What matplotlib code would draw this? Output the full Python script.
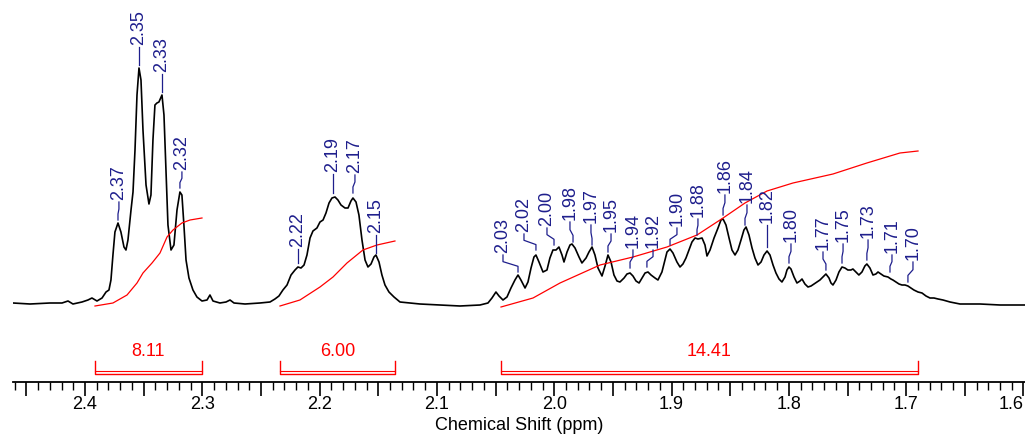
import numpy as np
import matplotlib.pyplot as plt
from matplotlib.ticker import MultipleLocator, FuncFormatter

plt.rcParams['font.family'] = ['Liberation Sans', 'DejaVu Sans']

# 1H NMR trace (chemical shift in ppm, intensity in arbitrary units)
shift = [2.4614, 2.4469, 2.4299, 2.4196, 2.4145, 2.4103, 2.4026, 2.3975, 2.3941, 2.3898,
         2.3855, 2.3821, 2.3796, 2.3779, 2.3762, 2.3745, 2.3719, 2.3694, 2.3668, 2.3651,
         2.3634, 2.3608, 2.3591, 2.3574, 2.3557, 2.3540, 2.3523, 2.3506, 2.3480, 2.3455,
         2.3438, 2.3421, 2.3404, 2.3387, 2.3370, 2.3344, 2.3327, 2.3310, 2.3293, 2.3267,
         2.3242, 2.3216, 2.3191, 2.3174, 2.3157, 2.3139, 2.3114, 2.3080, 2.3046, 2.3003,
         2.2960, 2.2935, 2.2909, 2.2850, 2.2798, 2.2764, 2.2730, 2.2636, 2.2509, 2.2423,
         2.2381, 2.2347, 2.2313, 2.2278, 2.2244, 2.2210, 2.2185, 2.2159, 2.2133, 2.2108,
         2.2082, 2.2057, 2.2023, 2.1997, 2.1971, 2.1946, 2.1920, 2.1895, 2.1869, 2.1844,
         2.1818, 2.1784, 2.1758, 2.1733, 2.1716, 2.1690, 2.1665, 2.1639, 2.1613, 2.1588,
         2.1562, 2.1537, 2.1520, 2.1494, 2.1469, 2.1443, 2.1409, 2.1366, 2.1315, 2.1230,
         2.1145, 2.0974, 2.0804, 2.0633, 2.0565, 2.0531, 2.0497, 2.0471, 2.0437, 2.0403,
         2.0369, 2.0335, 2.0309, 2.0284, 2.0249, 2.0224, 2.0198, 2.0173, 2.0156, 2.0130,
         2.0096, 2.0062, 2.0037, 2.0011, 1.9985, 1.9960, 1.9934, 1.9917, 1.9891, 1.9866,
         1.9849, 1.9823, 1.9789, 1.9764, 1.9729, 1.9704, 1.9678, 1.9653, 1.9627, 1.9593,
         1.9567, 1.9542, 1.9516, 1.9491, 1.9465, 1.9440, 1.9405, 1.9380, 1.9354, 1.9329,
         1.9303, 1.9277, 1.9252, 1.9226, 1.9201, 1.9175, 1.9141, 1.9116, 1.9082, 1.9056,
         1.9039, 1.9013, 1.8988, 1.8954, 1.8928, 1.8903, 1.8877, 1.8851, 1.8826, 1.8800,
         1.8775, 1.8740, 1.8715, 1.8698, 1.8672, 1.8638, 1.8604, 1.8579, 1.8561, 1.8536,
         1.8510, 1.8485, 1.8459, 1.8434, 1.8408, 1.8383, 1.8365, 1.8340, 1.8314, 1.8289,
         1.8263, 1.8237, 1.8212, 1.8186, 1.8161, 1.8135, 1.8110, 1.8084, 1.8059, 1.8033,
         1.8016, 1.7999, 1.7982, 1.7956, 1.7931, 1.7905, 1.7888, 1.7863, 1.7837, 1.7811,
         1.7786, 1.7760, 1.7735, 1.7709, 1.7684, 1.7658, 1.7641, 1.7624, 1.7598, 1.7573,
         1.7547, 1.7522, 1.7497, 1.7471, 1.7454, 1.7428, 1.7403, 1.7377, 1.7352, 1.7335,
         1.7309, 1.7283, 1.7258, 1.7240, 1.7215, 1.7190, 1.7155, 1.7130, 1.7113, 1.7087,
         1.7061, 1.7036, 1.7010, 1.6985, 1.6959, 1.6934, 1.6899, 1.6865, 1.6831, 1.6797,
         1.6763, 1.6728, 1.6686, 1.6626, 1.6541, 1.6370, 1.6200, 1.5987]
intensity = [0, -1, 0, 0, 2, -1, 1, 3, 5, 2,
             5, 11, 13, 23, 48, 71, 80, 71, 56, 53,
             63, 93, 111, 153, 208, 235, 223, 173, 118, 99,
             108, 163, 198, 200, 201, 208, 188, 133, 78, 53,
             58, 93, 111, 108, 78, 43, 25, 13, 6, 2,
             3, 8, 2, 0, 1, 3, 0, -1, 0, 1,
             4, 7, 13, 18, 28, 33, 36, 35, 38, 48,
             65, 72, 75, 81, 83, 90, 100, 105, 106, 103,
             98, 95, 95, 102, 105, 101, 88, 63, 43, 36,
             39, 46, 48, 41, 28, 18, 11, 6, 1, 0,
             -1, -2, -3, -2, 0, 5, 11, 7, 3, 6,
             15, 23, 28, 23, 15, 21, 35, 46, 48, 41,
             31, 33, 45, 53, 53, 56, 48, 41, 51, 58,
             59, 55, 46, 40, 45, 51, 56, 48, 35, 27,
             37, 48, 41, 28, 22, 21, 25, 29, 30, 27,
             22, 20, 25, 30, 31, 28, 25, 23, 31, 43,
             51, 54, 50, 41, 36, 39, 45, 53, 61, 65,
             64, 65, 58, 47, 53, 65, 75, 83, 84, 78,
             65, 53, 48, 53, 63, 73, 76, 68, 55, 45,
             38, 41, 48, 52, 48, 38, 30, 24, 21, 26,
             33, 36, 34, 26, 20, 22, 24, 19, 16, 17,
             19, 21, 23, 26, 29, 25, 20, 18, 23, 31,
             36, 35, 33, 33, 34, 31, 28, 31, 37, 39,
             35, 28, 29, 31, 29, 27, 26, 24, 23, 21,
             19, 18, 18, 17, 15, 13, 11, 10, 7, 5,
             5, 4, 3, 1, -1, -1, -2, -2]

# integral curves
int1_shift = [2.3915, 2.3762, 2.3642, 2.3557, 2.3506, 2.3429, 2.3361, 2.3301, 2.3250, 2.3174, 2.3105, 2.3003]
int1_value = [-3, 0, 8, 20, 30, 40, 50, 66, 73, 80, 83, 85]
int2_shift = [2.2338, 2.2168, 2.1997, 2.1886, 2.1767, 2.1631, 2.1511, 2.1358]
int2_value = [-3, 3, 16, 26, 40, 53, 58, 62]
int3_shift = [2.0454, 2.0181, 1.9951, 1.9610, 1.9329, 1.9039, 1.8783, 1.8561, 1.8374, 1.8186,
              1.7965, 1.7624, 1.7335, 1.7053, 1.6899]
int3_value = [-4, 5, 20, 38, 46, 56, 68, 85, 100, 112, 120, 129, 140, 150, 152]

# integration ranges and values
int_from = [2.3915, 2.2338, 2.0454]
int_to = [2.3003, 2.1358, 1.6899]
int_labels = ['8.11', '6.00', '14.41']

# peak picking: label, text position, text base height, peak position, peak tip height
peak_labels = ['2.37', '2.35', '2.33', '2.32', '2.22', '2.19', '2.17', '2.15',
               '2.03', '2.02', '2.00', '1.98', '1.97', '1.95', '1.94', '1.92', '1.90',
               '1.88', '1.86', '1.84', '1.82', '1.80', '1.77', '1.75', '1.73', '1.71', '1.70']
label_x = [2.3711, 2.3540, 2.3344, 2.3174, 2.2185, 2.1886, 2.1699, 2.1520,
           2.0437, 2.0258, 2.0062, 1.9866, 1.9687, 1.9516, 1.9329, 1.9158, 1.8954,
           1.8775, 1.8545, 1.8357, 1.8186, 1.7982, 1.7709, 1.7538, 1.7325, 1.7121, 1.6942]
label_base = [103, 258, 231, 133, 56, 131, 130, 70,
              50, 71, 77, 83, 80, 71, 55, 55, 77,
              86, 110, 100, 80, 61, 53, 61, 65, 50, 43]
peak_x = [2.3719, 2.3540, 2.3344, 2.3191, 2.2185, 2.1886, 2.1716, 2.1520,
          2.0309, 2.0156, 2.0002, 1.9840, 1.9678, 1.9542, 1.9354, 1.9210, 1.9013,
          1.8783, 1.8561, 1.8374, 1.8186, 1.7999, 1.7684, 1.7547, 1.7335, 1.7138, 1.6985]
peak_tip = [83, 238, 211, 115, 40, 110, 110, 50,
            31, 53, 58, 61, 58, 51, 35, 36, 58,
            68, 88, 78, 56, 40, 33, 40, 43, 31, 21]

blue = '#1e1e8c'
red = '#ff0000'

fig = plt.figure(figsize=(10.25, 4.38), dpi=100)
ax = fig.add_axes([13 / 1025, 56 / 438, 1 - 13 / 1025, 382 / 438])

ax.plot(shift, intensity, color='black', lw=1.2, solid_joinstyle='round')

for xs, ys in [(int1_shift, int1_value), (int2_shift, int2_value), (int3_shift, int3_value)]:
    ax.plot(xs, ys, color=red, lw=0.9)

# integration brackets
for a, b, lab in zip(int_from, int_to, int_labels):
    ax.plot([a, a, b, b], [-58, -71, -71, -58], color=red, lw=1.0)
    ax.plot([a, b], [-68, -68], color=red, lw=0.8)
    ax.text((a + b) / 2, -48, lab, color=red, fontsize=13, ha='center', va='center')

# peak labels with leader lines
for lab, lx, lb, px, pt in zip(peak_labels, label_x, label_base, peak_x, peak_tip):
    gap = lb - pt
    ax.plot([lx, lx, px, px], [lb - 2, lb - 2 - 0.35 * gap, pt + 0.3 * gap, pt],
            color=blue, lw=0.9)
    ax.text(lx, lb, lab, color=blue, fontsize=13, rotation=90,
            ha='center', va='bottom')

ax.set_xlim(2.4614, 1.5987)
ax.set_ylim(-79, 303)

for s in ['top', 'left', 'right']:
    ax.spines[s].set_visible(False)
ax.spines['bottom'].set_linewidth(1.3)
ax.set_yticks([])
ax.xaxis.set_major_locator(MultipleLocator(0.05))
ax.xaxis.set_minor_locator(MultipleLocator(0.01))
ax.xaxis.set_major_formatter(FuncFormatter(
    lambda v, p: f'{v:.1f}' if abs(v * 10 - round(v * 10)) < 1e-6 else ''))
ax.tick_params(axis='x', which='major', length=10, width=1.2, labelsize=13, pad=0)
ax.tick_params(axis='x', which='minor', length=6, width=1.0)
ax.set_xlabel('Chemical Shift (ppm)', fontsize=13, labelpad=3)
ax.patch.set_alpha(0)

# the last label sits at the right edge, push it inside like the original
fig.canvas.draw()
for tick in ax.xaxis.get_major_ticks():
    if abs(tick.get_loc() - 1.6) < 1e-6:
        tick.label1.set_horizontalalignment('right')
        tick.label1.set_x(tick.get_loc())

fig.savefig('out.png', dpi=100)
